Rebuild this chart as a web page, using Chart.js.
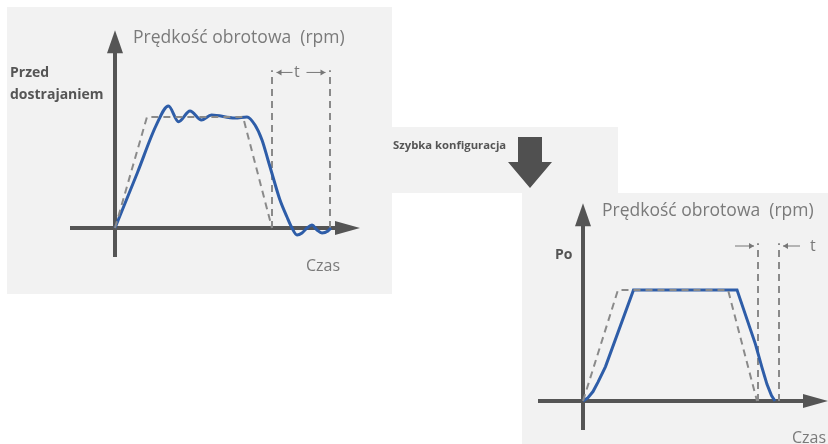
<!DOCTYPE html>
<html>
<head>
<meta charset="utf-8">
<script src="https://cdn.jsdelivr.net/npm/chart.js@4"></script>
<style>
  body { margin: 0; background: #fff; width: 828px; height: 444px; position: relative; overflow: hidden; font-family: "Open Sans", sans-serif; }
  .panel { position: absolute; background: #f2f2f2; }
  canvas { position: absolute; }
  .lbl { position: absolute; white-space: nowrap; line-height: 1; }
  .title { color: #7a7a7a; font-size: 17.5px; }
  .bold { color: #555; font-weight: bold; font-size: 14px; }
  .czas { color: #7a7a7a; font-size: 16px; }
</style>
</head>
<body>
<div class="panel" style="left:7px;top:7px;width:385px;height:287px"></div>
<div class="panel" style="left:392px;top:127px;width:226px;height:66px"></div>
<div class="panel" style="left:522px;top:193px;width:306px;height:251px"></div>

<canvas id="chartBefore" width="400" height="300" style="left:0;top:0"></canvas>
<canvas id="chartAfter" width="305" height="249" style="left:523px;top:195px"></canvas>

<!-- big down arrow between the two charts -->
<svg style="position:absolute;left:505px;top:135px" width="50" height="56">
  <polygon points="13,2 37,2 37,27 47,27 25,53 3,27 13,27" fill="#505050"/>
</svg>

<div class="lbl title" style="left:133px;top:28px">Prędkość obrotowa&nbsp; (rpm)</div>
<div class="lbl bold" style="left:10px;top:65px">Przed</div>
<div class="lbl bold" style="left:10px;top:87px">dostrajaniem</div>
<div class="lbl czas" style="left:306px;top:257px">Czas</div>
<div class="lbl title" style="left:294px;top:63px;font-size:16px">t</div>

<div class="lbl bold" style="left:393px;top:139px;font-size:11.3px">Szybka konfiguracja</div>

<div class="lbl title" style="left:602px;top:201px">Prędkość obrotowa&nbsp; (rpm)</div>
<div class="lbl bold" style="left:555px;top:247px">Po</div>
<div class="lbl czas" style="left:792px;top:429px">Czas</div>
<div class="lbl title" style="left:810px;top:237px;font-size:16px">t</div>

<script>
// before tuning: actual speed (blue) and command (dashed)
const beforeTime = [0, 4.5, 8.3, 10.7, 12.7, 15, 17.3, 19.3, 24, 26.4, 28, 29.4, 30.6, 31.6, 33, 34.4, 35.4, 36.4, 37.4, 38.4, 39.4, 40.4, 41.4, 42.6, 43.2];
const beforeSpeed = [0, 50, 93, 109.8, 95.7, 105.3, 97.2, 101.7, 99, 100, 92.7, 79.2, 61.2, 45.9, 25.2, 9.9, 0, -6.3, -4.5, 0, 2.7, -1.8, -4.5, -2.7, 0];
const beforeCmdTime = [0, 6.4, 25.6, 31.4];
const beforeCmdSpeed = [0, 100, 100, 0];
const beforeMarks = [31.4, 43];

// after quick setup
const afterTime = [0, 1, 2, 3, 4.5, 10.1, 30.8, 34.5, 35.8, 36.8, 37.7, 38.4];
const afterSpeed = [0, 3, 8.5, 17, 31, 100, 100, 51, 30, 15, 5, 0];
const afterCmdTime = [0, 7, 29, 34.8];
const afterCmdSpeed = [0, 100, 100, 0];
const afterMarks = [35, 39.2];

const markTop = 142;

function pts(xs, ys) {
  return xs.map((x, i) => ({ x: x, y: ys[i] }));
}

// axes with arrow heads + little "t" arrows
const axesPlugin = {
  id: "axesPlugin",
  beforeDatasetsDraw(chart, args, opts) {
    const c = chart.ctx;
    const xs = chart.scales.x, ys = chart.scales.y;
    const x0 = xs.getPixelForValue(0), y0 = ys.getPixelForValue(0);
    const yTop = ys.getPixelForValue(178), yBot = ys.getPixelForValue(-26);
    const xL = xs.getPixelForValue(-9), xR = xs.getPixelForValue(49);
    c.save();
    c.strokeStyle = "#555";
    c.fillStyle = "#555";
    c.lineWidth = 4;
    c.beginPath();
    c.moveTo(x0, yBot); c.lineTo(x0, yTop + 18);
    c.moveTo(xL, y0); c.lineTo(xR - 20, y0);
    c.stroke();
    c.beginPath();
    c.moveTo(x0, yTop); c.lineTo(x0 - 8, yTop + 23); c.lineTo(x0 + 8, yTop + 23);
    c.closePath(); c.fill();
    c.beginPath();
    c.moveTo(xR, y0); c.lineTo(xR - 25, y0 - 7); c.lineTo(xR - 25, y0 + 7);
    c.closePath(); c.fill();
    c.restore();
  },
  afterDatasetsDraw(chart, args, opts) {
    if (!opts.arrows) return;
    const c = chart.ctx;
    const xs = chart.scales.x, ys = chart.scales.y;
    c.save();
    c.strokeStyle = "#777";
    c.fillStyle = "#777";
    c.lineWidth = 1;
    opts.arrows.forEach(a => {
      const px1 = xs.getPixelForValue(a[0]), px2 = xs.getPixelForValue(a[1]);
      const py = ys.getPixelForValue(a[2]);
      const dir = px2 > px1 ? 1 : -1;
      c.beginPath(); c.moveTo(px1, py); c.lineTo(px2, py); c.stroke();
      c.beginPath();
      c.moveTo(px2, py); c.lineTo(px2 - dir * 5, py - 3); c.lineTo(px2 - dir * 5, py + 3);
      c.closePath(); c.fill();
    });
    c.restore();
  }
};

function makeChart(id, blue, cmd, marks, xMin, xMax, yMin, yMax, arrows, smooth) {
  const datasets = [
    {
      data: cmd,
      borderColor: "#8a8a8a",
      borderWidth: 2,
      borderDash: [7, 5],
      pointRadius: 0,
      tension: 0,
    },
    {
      data: blue,
      borderColor: "#2e5da8",
      borderWidth: 3,
      pointRadius: 0,
      tension: smooth ? 0.4 : 0,
      cubicInterpolationMode: smooth ? "monotone" : "default",
    },
  ];
  marks.forEach(m => {
    datasets.push({
      data: [{ x: m, y: 0 }, { x: m, y: markTop }],
      borderColor: "#8a8a8a",
      borderWidth: 2,
      borderDash: [7, 5],
      pointRadius: 0,
    });
  });
  return new Chart(document.getElementById(id).getContext("2d"), {
    type: "line",
    data: { datasets: datasets },
    options: {
      responsive: false,
      animation: false,
      layout: { padding: 0 },
      scales: {
        x: { type: "linear", display: false, min: xMin, max: xMax },
        y: { type: "linear", display: false, min: yMin, max: yMax },
      },
      plugins: {
        legend: { display: false },
        tooltip: { enabled: false },
        axesPlugin: { arrows: arrows },
      },
    },
    plugins: [axesPlugin],
  });
}

makeChart("chartBefore", pts(beforeTime, beforeSpeed), pts(beforeCmdTime, beforeCmdSpeed), beforeMarks,
  -23, 57, -64.8, 205.2, [[35.5, 32.3, 140], [38.3, 42.1, 140]], true);
makeChart("chartAfter", pts(afterTime, afterSpeed), pts(afterCmdTime, afterCmdSpeed), afterMarks,
  -12, 49, -38.7, 185.4, [[30.4, 34.2, 139.5], [43.4, 40, 139.5]], false);
</script>
</body>
</html>
